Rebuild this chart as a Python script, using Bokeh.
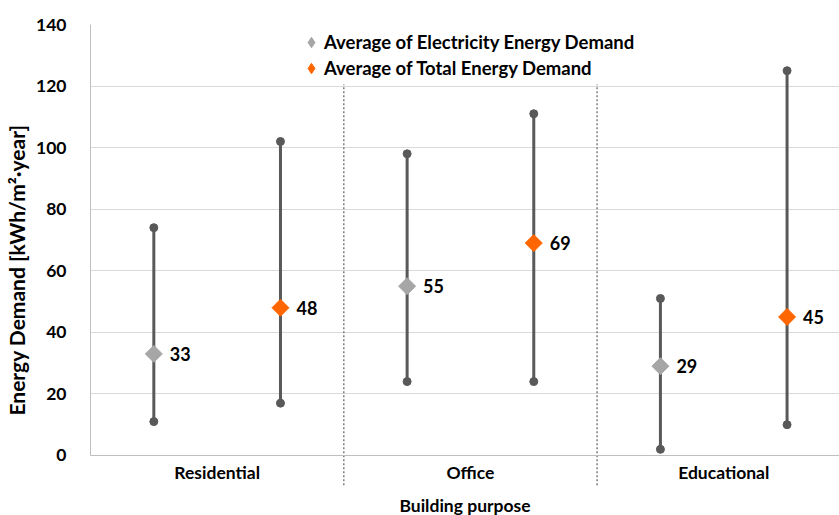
import math
from bokeh.plotting import figure
from bokeh.models import (ColumnDataSource, FixedTicker, Legend, LegendItem,
                          Range1d, Span)
from bokeh.core.properties import value
from bokeh.embed import file_html
from bokeh.resources import INLINE

# ---- data ----
categories = ["Residential", "Office", "Educational"]
elec_min = [11, 24, 2]
elec_avg = [33, 55, 29]
elec_max = [74, 98, 51]
total_min = [17, 24, 10]
total_avg = [48, 69, 45]
total_max = [102, 111, 125]
y_ticks = [0, 20, 40, 60, 80, 100, 120, 140]
series_names = ["Average of Electricity Energy Demand", "Average of Total Energy Demand"]
x_title = "Building purpose"
y_title = "Energy Demand [kWh/m²·year]"

FONT = "Lato"
LINE = "#595959"
GREY = "#a6a6a6"
ORANGE = "#ff6600"
OFF = 0.25
Y_LOW = -19.5     # frame reaches the bottom of the canvas (room for labels)
SEP_LOW = -9.7    # separators end just below category labels
SEP_TOP = 120.5

idx = list(range(len(categories)))
sep_x = [i + 0.5 for i in idx[:-1]]
x_start, x_end = -0.5, 2.457

src_e = ColumnDataSource(dict(x=[i - OFF for i in idx], lo=elec_min, avg=elec_avg,
                              hi=elec_max, lab=[str(v) for v in elec_avg]))
src_t = ColumnDataSource(dict(x=[i + OFF for i in idx], lo=total_min, avg=total_avg,
                              hi=total_max, lab=[str(v) for v in total_avg]))
src_c = ColumnDataSource(dict(x=idx, y=[0] * len(idx), t=categories))
src_title = ColumnDataSource(dict(x=[(x_start + x_end) / 2], y=[0], t=[x_title]))

p = figure(width=839, height=515, output_backend="svg", toolbar_location=None,
           x_range=Range1d(x_start, x_end), y_range=Range1d(Y_LOW, 140),
           min_border_left=90, min_border_right=0, min_border_top=24,
           min_border_bottom=0)
p.outline_line_color = None
p.background_fill_color = "white"
p.border_fill_color = "white"

# grid
p.xgrid.visible = False
p.ygrid.ticker = FixedTicker(ticks=y_ticks)
p.ygrid.grid_line_color = "#d9d9d9"
p.ygrid.grid_line_width = 1

# y axis
yax = p.yaxis[0]
yax.ticker = FixedTicker(ticks=y_ticks)
yax.bounds = (0, 140)
yax.axis_line_color = "#bfbfbf"
yax.major_tick_line_color = None
yax.minor_tick_line_color = None
yax.major_label_text_font = FONT
yax.major_label_text_font_style = "bold"
yax.major_label_text_font_size = "17.5px"
yax.major_label_text_color = "black"
yax.major_label_standoff = 18
yax.axis_label = y_title
yax.axis_label_text_font = FONT
yax.axis_label_text_font_style = "bold"
yax.axis_label_text_font_size = "21px"
yax.axis_label_text_color = "black"
yax.axis_label_standoff = 4

p.xaxis.visible = False

# baseline at zero
p.add_layout(Span(location=0, dimension="width", line_color="#bfbfbf", line_width=1))

# category separators
p.segment(x0=sep_x, y0=[SEP_LOW] * len(sep_x), x1=sep_x, y1=[SEP_TOP] * len(sep_x),
          line_color="#7f7f7f", line_width=1.5, line_dash="2 2")

# category labels and x title
p.text(x="x", y="y", text="t", source=src_c, y_offset=17, text_align="center",
       text_baseline="middle", text_font=value(FONT), text_font_style="bold",
       text_font_size="17.5px", text_color="black")
p.text(x="x", y="y", text="t", source=src_title, y_offset=50, text_align="center",
       text_baseline="middle", text_font=value(FONT), text_font_style="bold",
       text_font_size="17.5px", text_color="black")

# whiskers
for src in (src_e, src_t):
    p.segment(x0="x", y0="lo", x1="x", y1="hi", source=src,
              line_color=LINE, line_width=3)
    p.scatter(x="x", y="lo", source=src, size=8, color=LINE)
    p.scatter(x="x", y="hi", source=src, size=8, color=LINE)

p.scatter(x="x", y="avg", source=src_e, marker="square", size=12,
          angle=math.pi / 4, fill_color=GREY, line_color=GREY)
p.scatter(x="x", y="avg", source=src_t, marker="square", size=12,
          angle=math.pi / 4, fill_color=ORANGE, line_color=ORANGE)

for src in (src_e, src_t):
    p.text(x="x", y="avg", text="lab", source=src, x_offset=16,
           text_align="left", text_baseline="middle",
           text_font=value(FONT), text_font_style="bold",
           text_font_size="18px", text_color="black")

# legend proxies (diamond shape; not drawn in the plot itself)
lg_e = p.scatter(x="x", y="avg", source=src_e, marker="diamond", size=12,
                 fill_color=GREY, line_color=GREY, visible=False)
lg_t = p.scatter(x="x", y="avg", source=src_t, marker="diamond", size=12,
                 fill_color=ORANGE, line_color=ORANGE, visible=False)

legend = Legend(items=[LegendItem(label=series_names[0], renderers=[lg_e]),
                       LegendItem(label=series_names[1], renderers=[lg_t])],
                location=(208, 434))
legend.border_line_color = None
legend.background_fill_alpha = 0
legend.padding = 0
legend.margin = 0
legend.spacing = 0
legend.glyph_width = 26
legend.glyph_height = 26
legend.label_height = 24
legend.label_standoff = 0
legend.label_text_font = FONT
legend.label_text_font_style = "bold"
legend.label_text_font_size = "18.5px"
legend.label_text_color = "black"
p.add_layout(legend)

open("out.html", "w").write(file_html(p, INLINE))
